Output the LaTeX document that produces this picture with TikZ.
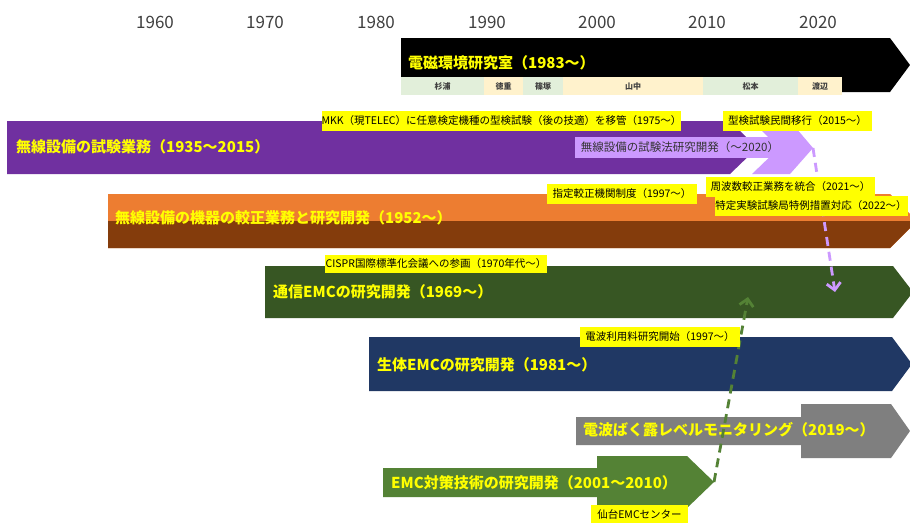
\documentclass[tikz,border=0pt]{standalone}
\usepackage{fontspec}
\setmainfont{Noto Sans CJK JP}
\usepackage{xcolor}
\usepackage{tikz}
\usetikzlibrary{arrows.meta}
\definecolor{labBlack}{HTML}{000000}
\definecolor{labPurple}{HTML}{7030A0}
\definecolor{labLilac}{HTML}{CC99FF}
\definecolor{labOrange}{HTML}{ED7D31}
\definecolor{labBrown}{HTML}{843C0C}
\definecolor{labDkGreen}{HTML}{375623}
\definecolor{labNavy}{HTML}{203864}
\definecolor{labGray}{HTML}{7F7F7F}
\definecolor{labGreen}{HTML}{548235}
\definecolor{noteYellow}{HTML}{FFFF00}
\definecolor{cellGreen}{HTML}{E2EFDA}
\definecolor{cellCream}{HTML}{FFF2CC}
\tikzset{
  yearlbl/.style  = {text=black!75, font=\fontsize{17}{20}\selectfont, inner sep=0},
  bartitle/.style = {anchor=west, text=noteYellow, inner sep=0,
                     font=\fontsize{15}{18}\selectfont\bfseries},
  note/.style     = {fill=noteYellow, text=black, inner sep=0, minimum height=20pt,
                     font=\fontsize{10.5}{12}\selectfont},
  namecell/.style = {inner sep=0, minimum height=18pt, text=black!75,
                     font=\fontsize{8}{9}\selectfont\bfseries},
  dasharrow/.style = {line width=2.8pt, dash pattern=on 9pt off 6pt,
                      -{Straight Barb[length=7pt,width=14pt]}},
}

\begin{document}
\begin{tikzpicture}[x=1pt,y=-1pt]

    \useasboundingbox[fill=white] (0,0) rectangle (910,523);
    \clip (0,0) rectangle (910,523);

    % decade labels
    \node[yearlbl] (y1960) at (155,22) {1960};
    \node[yearlbl] (y1970) at (265,22) {1970};
    \node[yearlbl] (y1980) at (376,22) {1980};
    \node[yearlbl] (y1990) at (487,22) {1990};
    \node[yearlbl] (y2000) at (597,22) {2000};
    \node[yearlbl] (y2010) at (707,22) {2010};
    \node[yearlbl] (y2020) at (818,22) {2020};

    % laboratory bar with its heads
    \fill[labBlack] (401,38) -- (890,38) -- (910,65) -- (890,92) -- (401,92) -- cycle;
    \node[bartitle] (lab) at (408,63) {電磁環境研究室（1983～）};
    \node[namecell, fill=cellGreen, minimum width=83pt] (sugiura)   at (442.5,86) {杉浦};
    \node[namecell, fill=cellCream, minimum width=39pt] (tokushige) at (503.5,86) {徳重};
    \node[namecell, fill=cellGreen, minimum width=40pt] (shinozuka) at (543,86)   {篠塚};
    \node[namecell, fill=cellCream, minimum width=140pt] (yamanaka) at (633,86)   {山中};
    \node[namecell, fill=cellGreen, minimum width=95pt] (matsumoto) at (750.5,86) {松本};
    \node[namecell, fill=cellCream, minimum width=44pt] (watanabe)  at (820,86)   {渡辺};

    % radio equipment testing
    \fill[labPurple] (7,121) -- (730,121) -- (757,148) -- (730,174) -- (7,174) -- cycle;
    \fill[labLilac] (752,121) -- (790,121) -- (813,148) -- (790,174) -- (752,174) -- (779,148) -- cycle;
    \node[fill=labLilac, text=black!80, inner sep=0, minimum width=210pt, minimum height=21pt,
          font=\fontsize{11.5}{13}\selectfont] (hoken) at (680,147.5)
      {無線設備の試験法研究開発（～2020）};
    \node[bartitle] (shiken) at (16,147) {無線設備の試験業務（1935～2015）};
    \coordinate (hokentip) at (813,148);

    % calibration
    \fill[labOrange] (108,194) -- (890,194) -- (917,221) -- (890,248) -- (108,248) -- cycle;
    \fill[labBrown] (108,221) -- (917,221) -- (890,248) -- (108,248) -- cycle;
    \node[bartitle] (kosei) at (115,218) {無線設備の機器の較正業務と研究開発（1952～）};

    % communication EMC
    \fill[labDkGreen] (265,266) -- (893,266) -- (913,292) -- (893,318) -- (265,318) -- cycle;
    \node[bartitle] (tsushin) at (273,292) {通信EMCの研究開発（1969～）};
    \coordinate (tsushinA) at (748,297);
    \coordinate (tsushinB) at (835,292);

    % biological EMC
    \fill[labNavy] (369,337) -- (892,337) -- (912,364) -- (892,391) -- (369,391) -- cycle;
    \node[bartitle] (seitai) at (377,365) {生体EMCの研究開発（1981～）};

    % exposure monitoring
    \fill[labGray] (576,417) -- (801,417) -- (801,404) -- (891,404) -- (910,431)
                   -- (891,458) -- (801,458) -- (801,445) -- (576,445) -- cycle;
    \node[bartitle] (bakuro) at (583,430) {電波ばく露レベルモニタリング（2019～）};

    % EMC countermeasures
    \fill[labGreen] (383,468) -- (597,468) -- (597,456) -- (687,456) -- (714,482)
                    -- (687,508) -- (597,508) -- (597,497) -- (383,497) -- cycle;
    \node[bartitle] (taisaku) at (391,483) {EMC対策技術の研究開発（2001～2010）};
    \coordinate (taisakutip) at (714,482);

    % hand-over arrows
    \draw[dasharrow, labLilac] (hokentip) -- (tsushinB);
    \draw[dasharrow, labGreen] (taisakutip) -- (tsushinA);

    % yellow notes
    \node[note, minimum width=357pt] (mkk)     at (501.5,121) {MKK（現TELEC）に任意検定機種の型検試験（後の技適）を移管（1975～）};
    \node[note, minimum width=149pt] (minkan)  at (797.5,121) {型検試験民間移行（2015～）};
    \node[note, minimum width=150pt] (shitei)  at (622,193.5) {指定較正機関制度（1997～）};
    \node[note, minimum width=169pt] (shuha)   at (790.5,186.5) {周波数較正業務を統合（2021～）};
    \node[note, minimum width=193pt] (tokutei) at (811,205.5) {特定実験試験局特例措置対応（2022～）};
    \node[note, minimum width=222pt, minimum height=18pt] (cispr) at (436,264) {CISPR国際標準化会議への参画（1970年代～）};
    \node[note, minimum width=160pt] (riyoryo) at (660,336.5) {電波利用料研究開始（1997～）};
    \node[note, minimum width=97pt, minimum height=18pt] (sendai) at (639.5,514) {仙台EMCセンター};

\end{tikzpicture}
\end{document}
